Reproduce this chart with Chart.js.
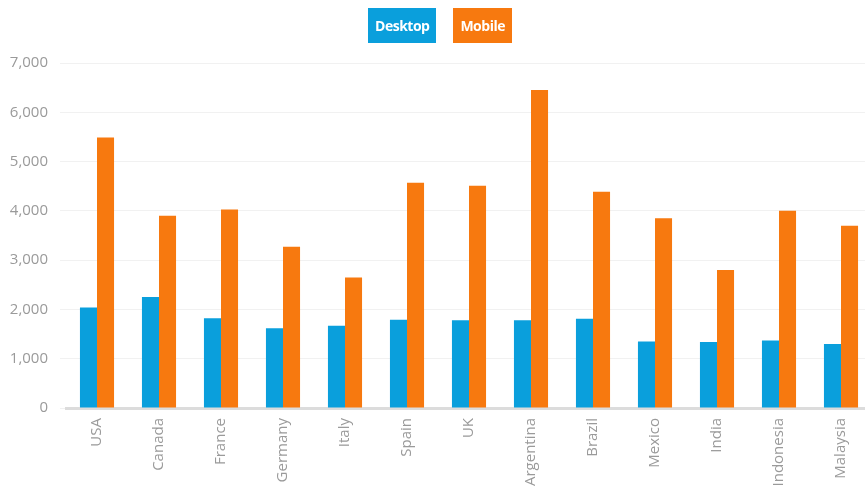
<!DOCTYPE html>
<html>
<head>
<meta charset="utf-8">
<script src="https://cdn.jsdelivr.net/npm/chart.js@4"></script>
<style>
  html, body { margin: 0; padding: 0; background: #fff; overflow: hidden; }
  #wrap { position: relative; width: 872px; height: 491px; }
  #legend { position: absolute; top: 8px; left: 0; width: 880px; display: flex; justify-content: center; gap: 17px; }
  #legend span { display: inline-block; height: 35px; padding: 0 7px; color: #fff;
    font: bold 14px "Open Sans", sans-serif; line-height: 35px; letter-spacing: -0.5px; }
</style>
</head>
<body>
<div id="wrap">
  <canvas id="chart"></canvas>
  <div id="legend"></div>
</div>
<script>
const countries = ["USA", "Canada", "France", "Germany", "Italy", "Spain", "UK",
  "Argentina", "Brazil", "Mexico", "India", "Indonesia", "Malaysia"];
const desktop = [2040, 2250, 1820, 1620, 1670, 1790, 1780, 1780, 1810, 1350, 1340, 1370, 1300];
const mobile = [5490, 3900, 4030, 3270, 2650, 4570, 4510, 6450, 4390, 3850, 2800, 4000, 3700];
const yTicks = [0, 1000, 2000, 3000, 4000, 5000, 6000, 7000];

const ctx = document.getElementById("chart");

const chart = new Chart(ctx, {
  type: "bar",
  data: {
    labels: countries,
    datasets: [
      { label: "Desktop", data: desktop, backgroundColor: "#0a9fdc" },
      { label: "Mobile", data: mobile, backgroundColor: "#f7790f" }
    ]
  },
  options: {
    responsive: true,
    maintainAspectRatio: false,
    animation: false,
    layout: { padding: { top: 63, right: 0, bottom: 0, left: 0 } },
    datasets: {
      bar: { barPercentage: 1, categoryPercentage: 0.55 }
    },
    plugins: {
      legend: { display: false },
      tooltip: { enabled: false }
    },
    scales: {
      x: {
        grid: { display: false, drawTicks: false },
        border: { display: true, color: "#dcdcdc", width: 3 },
        ticks: {
          color: "#9a9a9a",
          font: { family: "'Open Sans', sans-serif", size: 15 },
          minRotation: 90,
          maxRotation: 90,
          autoSkip: false,
          padding: 10
        },
        afterFit: (scale) => { scale.height = 83; }
      },
      y: {
        min: yTicks[0],
        max: yTicks[yTicks.length - 1],
        afterBuildTicks: (scale) => { scale.ticks = yTicks.map(v => ({ value: v })); },
        grid: { color: "#f1f1f1", tickLength: 6 },
        border: { display: false },
        ticks: {
          color: "#9a9a9a",
          font: { family: "'Open Sans', sans-serif", size: 15 },
          padding: 12,
          callback: (v) => v.toLocaleString("en-US")
        },
        afterFit: (scale) => { scale.width = 66; }
      }
    }
  }
});

// legend as coloured boxes with the label inside
const legendEl = document.getElementById("legend");
chart.data.datasets.forEach(ds => {
  const item = document.createElement("span");
  item.textContent = ds.label;
  item.style.background = ds.backgroundColor;
  legendEl.appendChild(item);
});
</script>
</body>
</html>
